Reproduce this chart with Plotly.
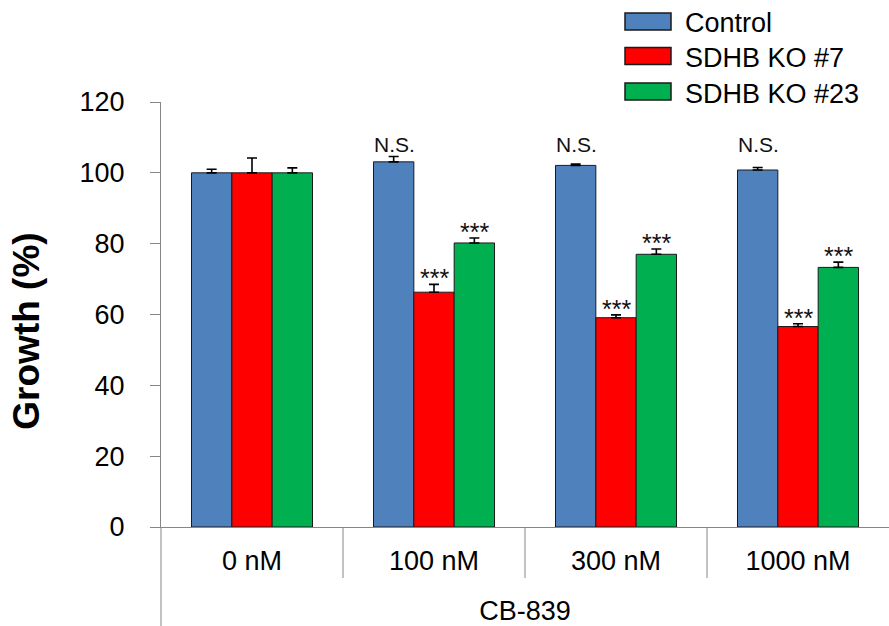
import plotly.graph_objects as go

categories = ["0 nM", "100 nM", "300 nM", "1000 nM"]
series_names = ["Control", "SDHB KO #7", "SDHB KO #23"]
control = [100, 103.1, 102.1, 100.8]
ko7 = [100, 66.3, 59.1, 56.6]
ko23 = [100, 80.2, 77.0, 73.3]
control_err = [1.0, 1.5, 0.4, 0.7]
ko7_err = [4.2, 2.2, 0.8, 0.8]
ko23_err = [1.4, 1.4, 1.5, 1.5]
control_sig = ["", "N.S.", "N.S.", "N.S."]
ko7_sig = ["", "***", "***", "***"]
ko23_sig = ["", "***", "***", "***"]
x_title = "CB-839"
y_title = "Growth (%)"

colors = ["#4F81BD", "#FF0000", "#00B050"]
FONT = "Arial, Liberation Sans, sans-serif"

values = [control, ko7, ko23]
errors = [control_err, ko7_err, ko23_err]
sigs = [control_sig, ko7_sig, ko23_sig]

fig = go.Figure()
for name, vals, errs, col in zip(series_names, values, errors, colors):
    fig.add_trace(go.Bar(
        name=name, x=categories, y=vals,
        marker=dict(color=col, line=dict(color="#1a1a1a", width=1)),
        error_y=dict(type="data", array=errs, arrayminus=[0] * len(errs),
                     symmetric=False, color="#000000", thickness=1.6, width=5),
        showlegend=False,
    ))

annotations = []
shifts = [-40, 0, 40]
for k, (vals, errs, sg) in enumerate(zip(values, errors, sigs)):
    for i, cat in enumerate(categories):
        if not sg[i]:
            continue
        if sg[i] == "N.S.":
            annotations.append(dict(x=cat, y=108, text=sg[i], showarrow=False,
                                    xshift=shifts[k], yanchor="middle",
                                    font=dict(family=FONT, size=21, color="#111")))
        else:
            annotations.append(dict(x=cat, y=vals[i] + errs[i], text=sg[i], showarrow=False,
                                    xshift=shifts[k], yanchor="bottom", yshift=-10,
                                    font=dict(family=FONT, size=25, color="#111")))

# y title
annotations.append(dict(xref="paper", yref="paper", x=-0.186, y=0.461, text="<b>" + y_title + "</b>",
                        textangle=-90, showarrow=False, xanchor="center", yanchor="middle",
                        font=dict(family=FONT, size=37, color="#000")))

# manual legend
shapes = []
legend_rows = [21.5, 56, 91.5]
for name, col, py in zip(series_names, colors, legend_rows):
    y0 = (527 - (py - 8.5)) / 425
    y1 = (527 - (py + 8.5)) / 425
    shapes.append(dict(type="rect", xref="paper", yref="paper",
                       x0=(625 - 161) / 728, x1=(671 - 161) / 728, y0=y1, y1=y0,
                       fillcolor=col, line=dict(color="#1a1a1a", width=1.5)))
    annotations.append(dict(xref="paper", yref="paper", x=(683 - 161) / 728,
                            y=(527 - py - 2) / 425, text=name, showarrow=False,
                            xanchor="left", yanchor="middle",
                            font=dict(family=FONT, size=27, color="#000")))

# category dividers
for b in [0.5, 1.5, 2.5]:
    shapes.append(dict(type="line", xref="x", yref="paper", x0=b, x1=b, y0=0, y1=-51 / 425,
                       line=dict(color="#868686", width=1)))
# y axis extension
shapes.append(dict(type="line", xref="paper", yref="paper", x0=0, x1=0, y0=0, y1=-99 / 425,
                   line=dict(color="#868686", width=1)))

fig.update_layout(
    width=889, height=626,
    margin=dict(l=161, r=0, t=102, b=99),
    paper_bgcolor="white", plot_bgcolor="white",
    barmode="group", bargap=0.335, bargroupgap=0,
    font=dict(family=FONT, color="#000"),
    annotations=annotations, shapes=shapes,
    xaxis=dict(showline=True, linecolor="#868686", linewidth=1, showgrid=False,
               ticks="outside", ticklen=0, ticklabelstandoff=10,
               tickfont=dict(family=FONT, size=27, color="#000"),
               title=dict(text=x_title, font=dict(family=FONT, size=27, color="#000"), standoff=26),
               fixedrange=True),
    yaxis=dict(range=[0, 120], dtick=20, showline=True, linecolor="#868686", linewidth=1,
               showgrid=False, zeroline=False, ticks="outside", ticklen=10, tickcolor="#868686",
               ticklabelstandoff=20,
               tickfont=dict(family=FONT, size=27, color="#000")),
)

fig.write_html("out.html", config={"displayModeBar": False},
               post_script="document.body.style.margin='0';document.body.style.overflow='hidden';")
